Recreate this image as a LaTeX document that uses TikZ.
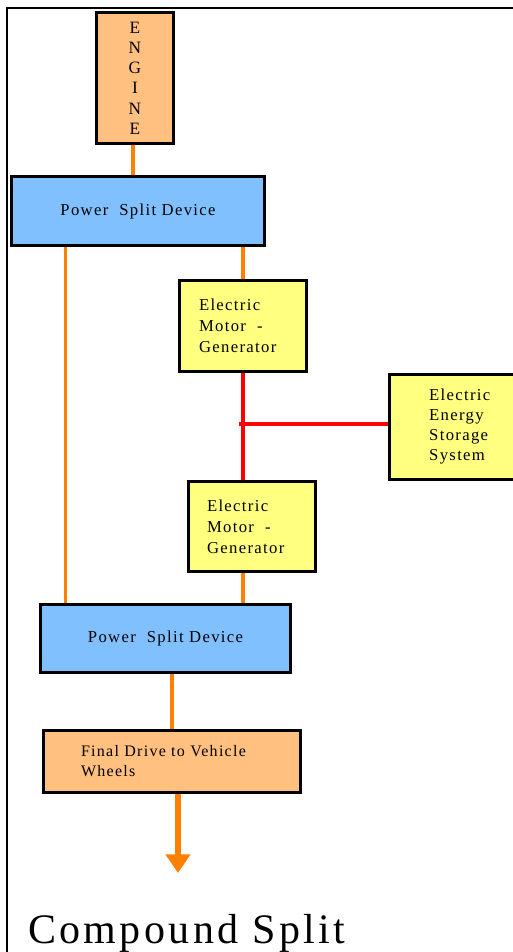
\documentclass[tikz,border=0pt]{standalone}
\usepackage{fontspec}
\setmainfont{Liberation Serif}
\newfontfamily\spacedfont[LetterSpace=8]{Liberation Serif}
\usetikzlibrary{arrows.meta,positioning}

\definecolor{engineorange}{HTML}{FFC080}
\definecolor{splitblue}{HTML}{80C0FF}
\definecolor{motoryellow}{HTML}{FFFF80}
\definecolor{shaftorange}{HTML}{FF8000}

\begin{document}
\begin{tikzpicture}[
    x=0.75pt, y=-0.75pt,
    block/.style={draw=black, line width=2.6pt, inner sep=0pt, align=left,
        font=\spacedfont\fontsize{12.5}{15.75}\selectfont},
    shaft/.style={draw=shaftorange, line width=2.5pt},
    bus/.style={draw=red, line width=2.5pt}
]

    \useasboundingbox (0,0) rectangle (513,952);
    \draw[line width=1.5pt] (7,952) -- (7,8) -- (513,8);

    \node[block, fill=engineorange, minimum width=57.75pt, minimum height=98.25pt,
        align=center, font=\spacedfont\fontsize{13}{15.2}\selectfont]
        (engine) at (135,78) {E\\N\\G\\I\\N\\E};
    \node[block, fill=splitblue, minimum width=189.75pt, minimum height=51.75pt]
        (psd1) at (138,211) {Power\ \ Split Device};
    \node[block, fill=motoryellow, minimum width=95.25pt, minimum height=68.25pt,
        text width=66pt]
        (emg1) at (243,326) {Electric\\Motor\ \ -\\Generator};
    \node[block, fill=motoryellow, minimum width=105pt, minimum height=78.75pt,
        font=\spacedfont\fontsize{12.5}{15}\selectfont]
        (eess) at (459.75,427) {Electric\\Energy\\Storage\\System};
    \node[block, fill=motoryellow, minimum width=95.25pt, minimum height=67.5pt,
        text width=67.5pt]
        (emg2) at (252,526.5) {Electric\\Motor\ \ -\\Generator};
    \node[block, fill=splitblue, minimum width=187.5pt, minimum height=51pt]
        (psd2) at (165.5,638.5) {Power\ \ Split Device};
    \node[block, fill=engineorange, minimum width=192.75pt, minimum height=46.5pt,
        text width=136.5pt, font=\spacedfont\fontsize{12}{15}\selectfont]
        (final) at (172,761.5) {Final Drive to Vehicle\\Wheels};

    % mechanical links
    \draw[shaft] (engine.south -| 133,0) -- (psd1.north -| 133,0);
    \draw[shaft] ([xshift=41.6pt]psd1.south west) coordinate (tapL) -- (tapL |- psd2.north);
    \draw[shaft] (emg1.north |- psd1.south) -- (emg1.north);
    \draw[shaft] (emg1.south |- emg2.south) -- (emg1.south |- psd2.north);
    \draw[shaft] (final.north |- psd2.south) -- (final.north);

    % electrical links
    \draw[bus, line width=3.6pt] (emg1.south) -- (emg1.south |- emg2.north);
    \draw[bus] ([yshift=2.2pt]eess.west) -- ([xshift=-3pt,yshift=2.2pt]eess.west -| emg1.south);

    \coordinate (wheels) at (178,873);
    \draw[shaft, line width=5pt, -{Triangle[width=18pt,length=14pt]}]
        (final.south -| wheels) -- (wheels);

    \node[anchor=base west, inner sep=0pt, font=\spacedfont\fontsize{31.5}{36}\selectfont]
        (title) at (28,943) {Compound Split};

\end{tikzpicture}
\end{document}
